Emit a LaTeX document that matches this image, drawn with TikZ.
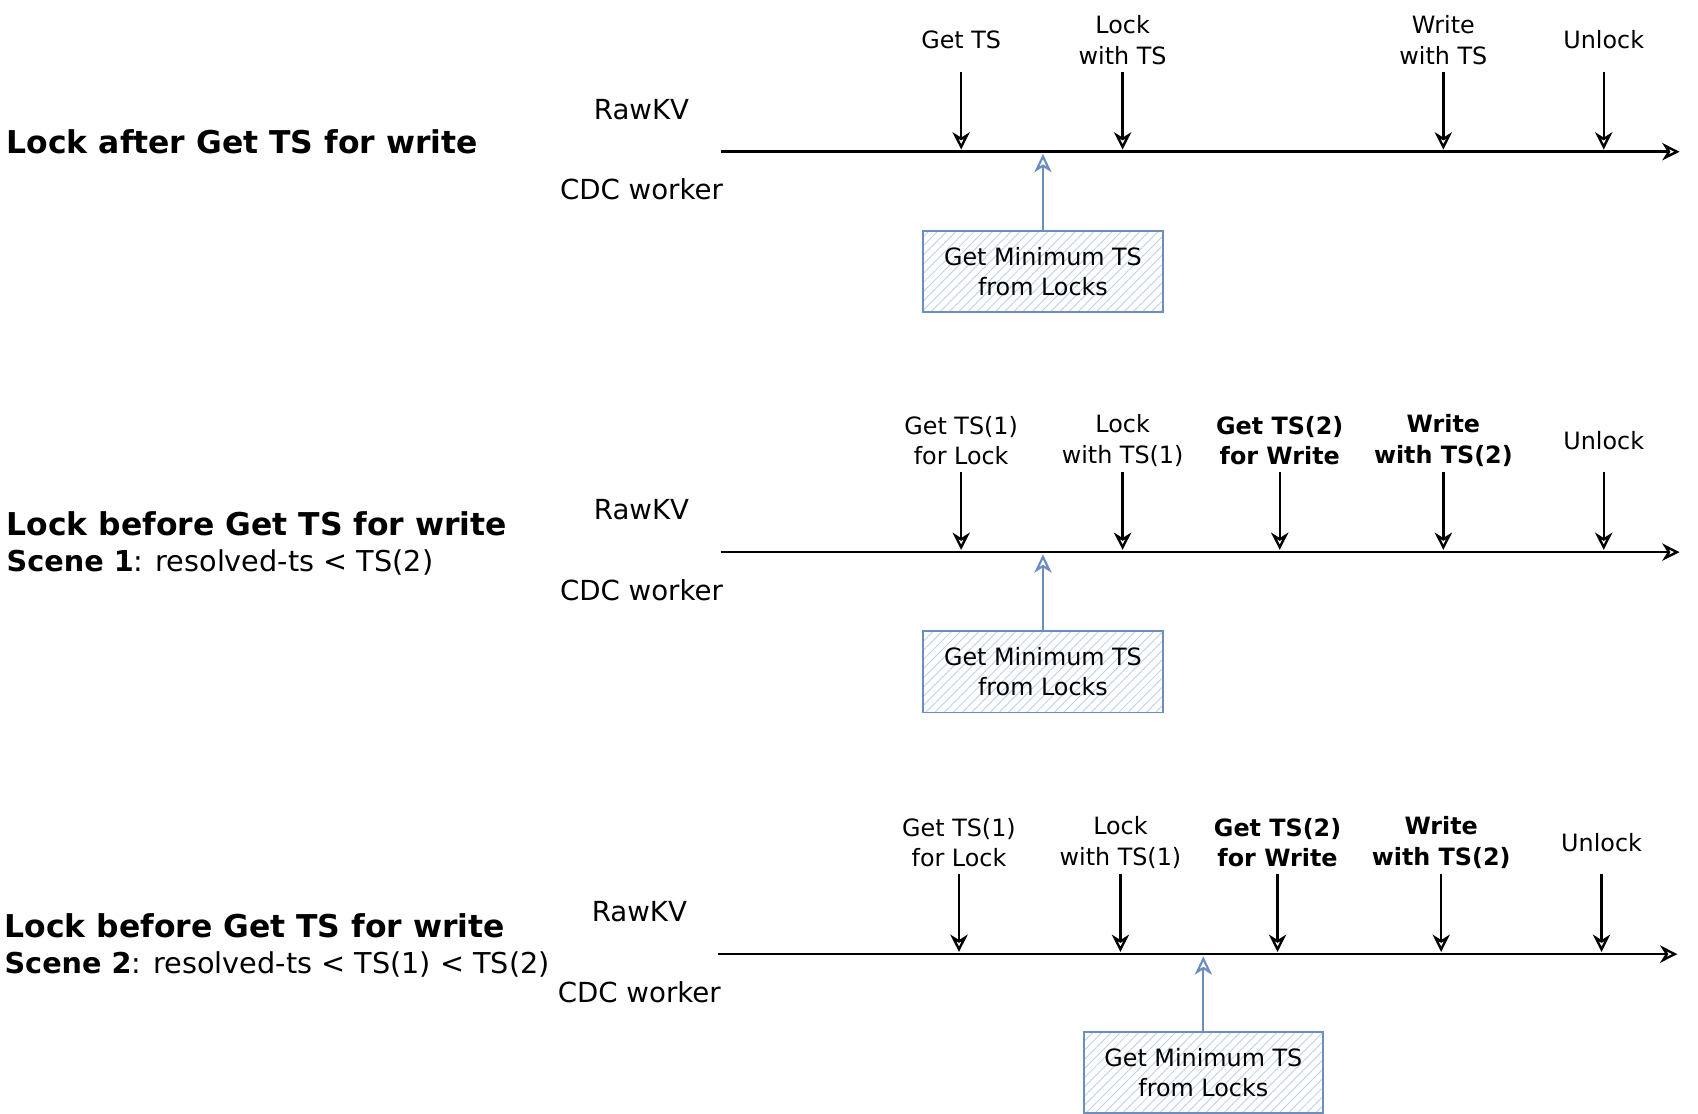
\documentclass[tikz,border=0pt]{standalone}
\usepackage{fontspec}
\setmainfont{DejaVu Sans}
\usepackage{xcolor}
\usepackage{tikz}
\usetikzlibrary{arrows.meta,patterns.meta}
\definecolor{lineblue}{HTML}{6C8EBF}
\definecolor{hatchblue}{HTML}{B8CFEE}

\begin{document}
\begin{tikzpicture}[x=1pt,y=-1pt,
            tick/.style = {line width=2.1pt, shorten >=2pt,
                        -{Stealth[open,length=16pt,width=16pt,inset=5pt,line width=2.2pt]}},
            axis/.style = {line width=1.9pt,
                        -{Stealth[open,length=16pt,width=16pt,inset=5pt,line width=2.2pt]}},
            up/.style = {draw=lineblue, line width=1.7pt, shorten >=2pt,
                        -{Stealth[open,length=17pt,width=16pt,inset=5pt,line width=2pt]}},
            evt/.style = {minimum height=58pt, inner sep=0pt, align=center,
                        font=\fontsize{22}{28}\selectfont},
            minbox/.style = {draw=lineblue, line width=1.7pt,
                        minimum width=221pt, minimum height=75pt, align=center,
                        pattern={Lines[angle=45,distance=6pt,line width=0.8pt]},
                        pattern color=hatchblue,
                        font=\fontsize{22}{28}\selectfont},
            role/.style = {font=\fontsize{25.5}{30}\selectfont},
            title/.style = {anchor=west, inner sep=0pt,
                        font=\bfseries\fontsize{29}{34}\selectfont},
            scene/.style = {anchor=west, inner sep=0pt,
                        font=\fontsize{26.5}{30}\selectfont}]
            \useasboundingbox (0,0) rectangle (1567,1028);

            % Lock after Get TS for write
            \node[title] (T1) at (6,131) {Lock after Get TS for write};
            \node[role] (R1) at (592,101) {RawKV};
            \node[role] (C1) at (592,175) {CDC worker};
            \coordinate (a1) at (665,140);
            \coordinate (b1) at (1550,140);
            \draw[axis,line width=2.6pt] (a1) -- (b1);
            \node[evt] (e11) at (887,37) {Get TS};
            \node[evt] (e12) at (1036,37) {Lock\\with TS};
            \node[evt] (e14) at (1332,37) {Write\\with TS};
            \node[evt] (e15) at (1480,37) {Unlock};
            \draw[tick] (e11.south) -- (e11.south |- a1);
            \draw[tick] (e12.south) -- (e12.south |- a1);
            \draw[tick] (e14.south) -- (e14.south |- a1);
            \draw[tick] (e15.south) -- (e15.south |- a1);
            \node[minbox] (M1) at (962.5,250.5) {Get Minimum TS\\from Locks};
            \draw[up] (M1.north) -- (M1.north |- a1);

            % Lock before Get TS for write, scene 1
            \begin{scope}[yshift=-369.5pt]
            \node[title] (T2) at (6,114) {Lock before Get TS for write};
            \node[scene] (S2) at (6,150) {\textbf{Scene 1}: resolved-ts < TS(2)};
            \node[role] (R2) at (592,101) {RawKV};
            \node[role] (C2) at (592,175) {CDC worker};
            \coordinate (a2) at (665,140);
            \coordinate (b2) at (1550,140);
            \draw[axis] (a2) -- (b2);
            \node[evt] (e21) at (887,37) {Get TS(1)\\for Lock};
            \node[evt] (e22) at (1036,37) {Lock\\with TS(1)};
            \node[evt] (e23) at (1181,37) {\bfseries Get TS(2)\\\bfseries for Write};
            \node[evt] (e24) at (1332,37) {\bfseries Write\\\bfseries with TS(2)};
            \node[evt] (e25) at (1480,37) {Unlock};
            \draw[tick] (e21.south) -- (e21.south |- a2);
            \draw[tick] (e22.south) -- (e22.south |- a2);
            \draw[tick] (e23.south) -- (e23.south |- a2);
            \draw[tick] (e24.south) -- (e24.south |- a2);
            \draw[tick] (e25.south) -- (e25.south |- a2);
            \node[minbox] (M2) at (962.5,250.5) {Get Minimum TS\\from Locks};
            \draw[up] (M2.north) -- (M2.north |- a2);
            \end{scope}

            % Lock before Get TS for write, scene 2
            \begin{scope}[xshift=-2pt,yshift=-740.5pt]
            \node[title] (T3) at (6,114) {Lock before Get TS for write};
            \node[scene] (S3) at (6,150) {\textbf{Scene 2}: resolved-ts < TS(1) < TS(2)};
            \node[role] (R3) at (592,101) {RawKV};
            \node[role] (C3) at (592,175) {CDC worker};
            \coordinate (a3) at (665,140);
            \coordinate (b3) at (1550,140);
            \draw[axis,line width=2.2pt] (a3) -- (b3);
            \node[evt] (e31) at (887,37) {Get TS(1)\\for Lock};
            \node[evt] (e32) at (1036,37) {Lock\\with TS(1)};
            \node[evt] (e33) at (1181,37) {\bfseries Get TS(2)\\\bfseries for Write};
            \node[evt] (e34) at (1332,37) {\bfseries Write\\\bfseries with TS(2)};
            \node[evt] (e35) at (1480,37) {Unlock};
            \draw[tick] (e31.south) -- (e31.south |- a3);
            \draw[tick] (e32.south) -- (e32.south |- a3);
            \draw[tick] (e33.south) -- (e33.south |- a3);
            \draw[tick] (e34.south) -- (e34.south |- a3);
            \draw[tick] (e35.south) -- (e35.south |- a3);
            \node[minbox] (M3) at (1112.5,249.5) {Get Minimum TS\\from Locks};
            \draw[up] (M3.north) -- (M3.north |- a3);
            \end{scope}
        \end{tikzpicture}
\end{document}
